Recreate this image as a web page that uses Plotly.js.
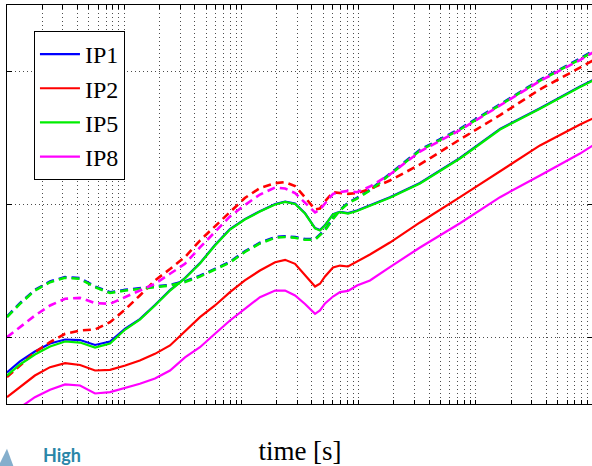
<!DOCTYPE html>
<html>
<head>
<meta charset="utf-8">
<script src="https://cdn.plot.ly/plotly-3.0.1.min.js"></script>
<style>
  html, body { margin: 0; padding: 0; background: #fff; overflow: hidden; }
  #chart { width: 600px; height: 466px; }
</style>
</head>
<body>
<div id="chart"></div>
<script>
// time [s] (log axis)
const time = [0.001, 0.00129, 0.00173, 0.00233, 0.00313, 0.0042, 0.00564, 0.00757, 0.0102, 0.0136,
  0.0183, 0.0246, 0.033, 0.0443, 0.0595, 0.0799, 0.107, 0.144, 0.194, 0.236,
  0.287, 0.349, 0.425, 0.468, 0.517, 0.605, 0.694, 0.812, 0.969, 1.25,
  1.85, 3.34, 7.33, 16.1, 35.3, 77.5, 100];

const seriesNames = ["IP1", "IP2", "IP5", "IP8"];

// solid curves
const ip1Solid = [0.737, 0.820, 0.895, 0.955, 0.985, 0.981, 0.944, 0.970, 1.066, 1.138,
  1.244, 1.356, 1.447, 1.559, 1.695, 1.815, 1.890, 1.950, 2.003, 2.022,
  2.007, 1.935, 1.823, 1.808, 1.845, 1.928, 1.945, 1.935, 1.955, 1.994,
  2.054, 2.162, 2.350, 2.568, 2.724, 2.888, 2.936];
const ip2Solid = [0.551, 0.626, 0.714, 0.777, 0.807, 0.793, 0.752, 0.757, 0.789, 0.827,
  0.877, 0.940, 1.045, 1.153, 1.241, 1.341, 1.429, 1.504, 1.566, 1.584,
  1.554, 1.466, 1.383, 1.404, 1.459, 1.526, 1.541, 1.534, 1.571, 1.624,
  1.714, 1.865, 2.055, 2.250, 2.444, 2.602, 2.647];
const ip5Solid = [0.714, 0.797, 0.872, 0.932, 0.970, 0.962, 0.925, 0.955, 1.060, 1.135,
  1.241, 1.353, 1.444, 1.556, 1.692, 1.812, 1.887, 1.947, 2.000, 2.019,
  2.004, 1.932, 1.820, 1.805, 1.842, 1.925, 1.942, 1.932, 1.951, 1.990,
  2.050, 2.158, 2.346, 2.564, 2.720, 2.884, 2.932];
const ip8Solid = [0.406, 0.474, 0.551, 0.607, 0.647, 0.639, 0.579, 0.589, 0.622, 0.652,
  0.692, 0.752, 0.850, 0.927, 1.028, 1.128, 1.216, 1.303, 1.353, 1.353,
  1.316, 1.252, 1.178, 1.203, 1.256, 1.308, 1.341, 1.350, 1.391, 1.429,
  1.529, 1.677, 1.859, 2.055, 2.218, 2.383, 2.444];

// dashed curves
const ip1Dashed = [1.158, 1.258, 1.358, 1.421, 1.454, 1.446, 1.383, 1.340, 1.358, 1.371,
  1.379, 1.396, 1.422, 1.464, 1.516, 1.569, 1.648, 1.712, 1.755, 1.761,
  1.755, 1.740, 1.740, 1.776, 1.810, 1.897, 1.960, 2.013, 2.050, 2.110,
  2.231, 2.411, 2.569, 2.753, 2.937, 3.097, 3.155];
const ip2Dashed = [0.702, 0.789, 0.889, 0.965, 1.028, 1.053, 1.060, 1.115, 1.211, 1.316,
  1.429, 1.515, 1.605, 1.729, 1.835, 1.942, 2.049, 2.124, 2.160, 2.168,
  2.139, 2.053, 1.962, 1.970, 2.023, 2.092, 2.085, 2.080, 2.086, 2.117,
  2.180, 2.301, 2.489, 2.672, 2.866, 3.030, 3.083];
const ip5Dashed = [1.153, 1.253, 1.353, 1.416, 1.449, 1.441, 1.378, 1.335, 1.353, 1.366,
  1.374, 1.391, 1.417, 1.459, 1.511, 1.564, 1.643, 1.707, 1.750, 1.756,
  1.750, 1.735, 1.735, 1.771, 1.805, 1.892, 1.955, 2.008, 2.045, 2.105,
  2.226, 2.406, 2.564, 2.748, 2.932, 3.092, 3.150];
const ip8Dashed = [1.002, 1.077, 1.165, 1.241, 1.291, 1.298, 1.259, 1.253, 1.303, 1.353,
  1.404, 1.479, 1.554, 1.677, 1.797, 1.910, 1.996, 2.075, 2.128, 2.120,
  2.086, 2.011, 1.940, 1.962, 2.005, 2.080, 2.094, 2.102, 2.092, 2.135,
  2.226, 2.398, 2.560, 2.744, 2.929, 3.086, 3.143];

const colors = ["#0000ff", "#ff0000", "#00ee00", "#ff00ff"];
const solids = [ip1Solid, ip2Solid, ip5Solid, ip8Solid];
const dashes = [ip1Dashed, ip2Dashed, ip5Dashed, ip8Dashed];

const traces = [];
for (let i = 0; i < 4; i++) {
  traces.push({
    x: time, y: solids[i], type: "scatter", mode: "lines",
    name: seriesNames[i], legendgroup: seriesNames[i],
    line: { color: colors[i], width: 2.2 }
  });
  traces.push({
    x: time, y: dashes[i], type: "scatter", mode: "lines",
    name: seriesNames[i] + " (dashed)", legendgroup: seriesNames[i], showlegend: false,
    line: { color: colors[i], width: 2.6, dash: "8px,5px" }
  });
}

// log-axis grid positions
const xTicks = [];
for (let e = -3; e < 2; e++) {
  for (let m = 1; m <= 9; m++) xTicks.push(m * Math.pow(10, e));
}
xTicks.push(100);

const gridStyle = { showgrid: true, gridcolor: "rgba(0,0,0,0.7)", gridwidth: 1, griddash: "1px,3px" };

const layout = {
  width: 600, height: 466,
  margin: { l: 7, r: 7, t: 5, b: 62 },
  paper_bgcolor: "#ffffff", plot_bgcolor: "#ffffff",
  showlegend: true,
  xaxis: Object.assign({
    type: "log", range: [-3, 2], tickvals: xTicks, showticklabels: false,
    ticks: "inside", ticklen: 4, tickcolor: "#000", tickwidth: 1,
    showline: true, linecolor: "#000", linewidth: 1, mirror: "ticks", zeroline: false,
    title: { text: "time [s]", font: { family: "Liberation Serif", size: 27, color: "#000" }, standoff: 39 },
    automargin: false
  }, gridStyle),
  yaxis: Object.assign({
    range: [0.5, 3.5], tickvals: [1, 2, 3], showticklabels: false,
    ticks: "inside", ticklen: 5, tickcolor: "#000", tickwidth: 1,
    showline: true, linecolor: "#000", linewidth: 1, mirror: "ticks", zeroline: false,
    automargin: false
  }, gridStyle),
  legend: {
    x: 0.046, y: 0.935, xanchor: "left", yanchor: "top",
    bgcolor: "#ffffff", bordercolor: "#000", borderwidth: 1,
    font: { family: "Liberation Serif", size: 24, color: "#000" },
    itemwidth: 40, traceorder: "grouped", tracegroupgap: 0
  },
  annotations: [{
    xref: "paper", yref: "paper", x: 0.058, y: -0.128, xanchor: "left", yanchor: "middle",
    text: "<b>High</b>", showarrow: false,
    font: { family: "Lato", size: 18, color: "#2a86a8" }
  }],
  shapes: [{
    type: "path", xref: "paper", yref: "paper",
    path: "M -0.016,-0.16 L 0.012,-0.16 L 0.000,-0.112 Z",
    fillcolor: "rgba(110,160,195,0.85)", line: { width: 0 }
  }]
};

Plotly.newPlot("chart", traces, layout, { staticPlot: true, displayModeBar: false });
</script>
</body>
</html>
